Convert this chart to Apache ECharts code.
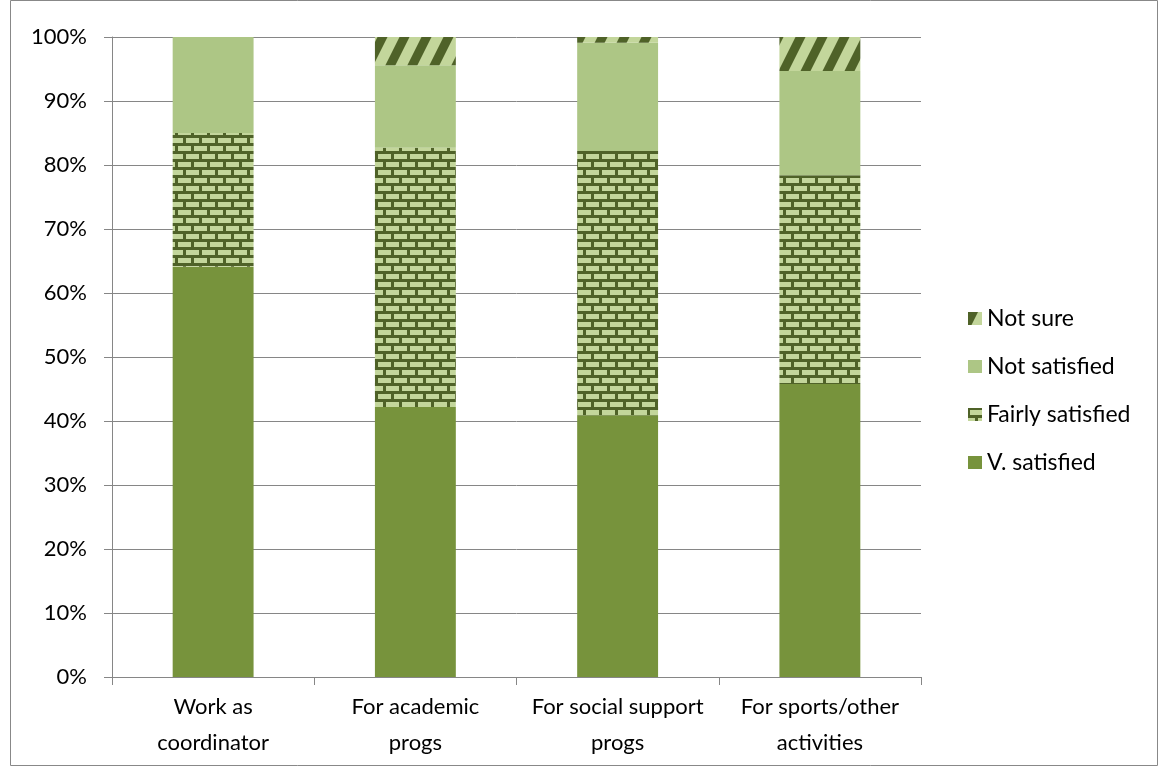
<!DOCTYPE html>
<html>
<head>
<meta charset="utf-8">
<script src="https://cdn.jsdelivr.net/npm/echarts@6/dist/echarts.min.js"></script>
<style>
  html, body { margin: 0; padding: 0; background: #fff; }
  #chart { width: 1159px; height: 767px; }
</style>
</head>
<body>
<div id="chart"></div>
<script>
// Satisfaction shares (percent of respondents) per area
const categories = ['Work as\ncoordinator', 'For academic\nprogs', 'For social support\nprogs', 'For sports/other\nactivities'];
const vSatisfied = [64.1, 42.2, 40.9, 45.8];
const fairlySatisfied = [20.9, 40.5, 41.3, 32.6];
const notSatisfied = [15.0, 12.9, 16.9, 16.3];
const notSure = [0, 4.4, 0.9, 5.3];
const legendOrder = ['Not sure', 'Not satisfied', 'Fairly satisfied', 'V. satisfied'];

const DARK = '#4f6228';
const LIGHT = '#c3d69b';

// Brick fill: light bricks on dark mortar
function brickPattern() {
  const c = document.createElement('canvas');
  c.width = 16; c.height = 16;
  const g = c.getContext('2d');
  g.fillStyle = DARK; g.fillRect(0, 0, 16, 16);
  g.fillStyle = LIGHT;
  g.fillRect(2, 2, 13, 5);
  g.fillRect(10, 10, 13, 5);
  g.fillRect(-6, 10, 13, 5);
  return c;
}

// Steep diagonal stripes rising to the right
function stripePattern() {
  const w = 22, h = 44, sw = 10;
  const c = document.createElement('canvas');
  c.width = w; c.height = h;
  const g = c.getContext('2d');
  g.fillStyle = LIGHT; g.fillRect(0, 0, w, h);
  g.fillStyle = DARK;
  for (let k = -1; k <= 1; k++) {
    const o = k * w;
    g.beginPath();
    g.moveTo(o, h);
    g.lineTo(o + sw, h);
    g.lineTo(o + w + sw, 0);
    g.lineTo(o + w, 0);
    g.closePath();
    g.fill();
  }
  return c;
}

const brick = { image: brickPattern(), repeat: 'repeat' };
const stripes = { image: stripePattern(), repeat: 'repeat' };

const chart = echarts.init(document.getElementById('chart'), null, { renderer: 'canvas' });
const font = 'Lato, "Open Sans", "Liberation Sans", sans-serif';
const FS = 22;

function barSeries(name, data, color) {
  return {
    name, type: 'bar', stack: 'total', data,
    barWidth: '40%',
    itemStyle: { color },
    emphasis: { disabled: true }
  };
}

chart.setOption({
  animation: false,
  textStyle: { fontFamily: font },
  grid: { left: 112, right: 238, top: 37, bottom: 90 },
  graphic: [{
    type: 'rect', silent: true, z: -1,
    shape: { x: 10.5, y: 0.5, width: 1147, height: 765 },
    style: { fill: 'none', stroke: '#888', lineWidth: 1 }
  }],
  legend: {
    data: legendOrder,
    orient: 'vertical',
    left: 963, top: 302,
    itemWidth: 14, itemHeight: 13, itemGap: 25,
    icon: 'rect',
    textStyle: { fontSize: 23, lineHeight: 23, color: '#000', fontFamily: font, padding: [0, 0, 0, 0] }
  },
  xAxis: {
    type: 'category',
    data: categories,
    axisLine: { lineStyle: { color: '#868686' } },
    axisTick: { show: true, length: 8, lineStyle: { color: '#868686' } },
    axisLabel: { interval: 0, fontSize: FS, color: '#000', lineHeight: 36, margin: 12, fontFamily: font }
  },
  yAxis: {
    type: 'value',
    min: 0, max: 100, interval: 10,
    axisLine: { show: true, lineStyle: { color: '#868686' } },
    axisTick: { show: true, length: 8, lineStyle: { color: '#868686' } },
    axisLabel: { formatter: '{value}%', fontSize: FS, color: '#000', margin: 25, fontFamily: font },
    splitLine: { lineStyle: { color: '#868686', width: 1 } }
  },
  series: [
    barSeries('V. satisfied', vSatisfied, '#77933c'),
    barSeries('Fairly satisfied', fairlySatisfied, brick),
    barSeries('Not satisfied', notSatisfied, '#adc685'),
    barSeries('Not sure', notSure, stripes)
  ]
});
</script>
</body>
</html>
